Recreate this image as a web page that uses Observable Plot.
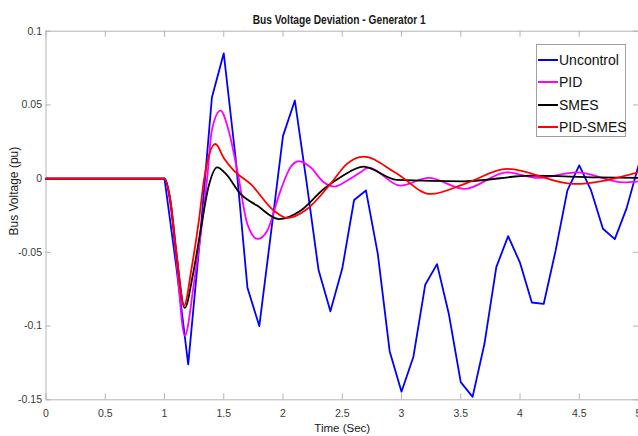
<!DOCTYPE html>
<html>
<head>
<meta charset="utf-8">
<script src="https://cdn.jsdelivr.net/npm/d3@7"></script>
<script src="https://cdn.jsdelivr.net/npm/@observablehq/plot@0.6"></script>
<style>
  html, body { margin: 0; padding: 0; background: #fff; }
  #wrap { position: relative; width: 638px; height: 436px; overflow: hidden; }
  #legend {
    position: absolute; left: 536px; top: 44px; width: 90px; height: 93px;
    border: 1px solid #a0a0a0; background: #fff; box-sizing: border-box;
    font-family: "Liberation Sans", Arial, sans-serif;
    font-size: 14px; color: #111;
  }
  #legend .row { position: absolute; left: 1px; height: 18px; display: flex; align-items: center; white-space: nowrap; }
  #legend .sw { width: 20px; height: 2px; margin-right: 1px; }
</style>
</head>
<body>
<div id="wrap"></div>
<script>
// ---- data ----
const chartTitle = "Bus Voltage Deviation - Generator 1";
const xLabel = "Time (Sec)";
const yLabel = "Bus Voltage (pu)";
const seriesNames = ["Uncontrol", "PID", "SMES", "PID-SMES"];
const seriesColors = ["#0000ff", "#ff00ff", "#000000", "#ff0000"];

const xTicks = [0, 0.5, 1, 1.5, 2, 2.5, 3, 3.5, 4, 4.5, 5];
const yTicks = [-0.15, -0.1, -0.05, 0, 0.05, 0.1];

const tUncontrol = [0,1.0,1.1,1.2,1.3,1.4,1.5,1.6,1.7,1.8,1.9,2.0,2.1,2.2,2.3,2.4,2.5,2.6,2.7,2.8,2.9,3.0,3.1,3.2,3.3,3.4,3.5,3.6,3.7,3.8,3.9,4.0,4.1,4.2,4.3,4.4,4.5,4.6,4.7,4.8,4.9,5.0];
const uncontrol = [0,0,-0.06,-0.126,-0.04,0.055,0.085,0.014,-0.074,-0.1,-0.036,0.029,0.053,-0.003,-0.062,-0.09,-0.061,-0.0145,-0.008,-0.051,-0.117,-0.1445,-0.121,-0.072,-0.058,-0.092,-0.138,-0.148,-0.112,-0.06,-0.039,-0.057,-0.084,-0.085,-0.049,-0.008,0.009,-0.008,-0.034,-0.041,-0.02,0.009];

const tPID = [0,1.0,1.05,1.1,1.171,1.25,1.33,1.36,1.4,1.473,1.54,1.62,1.70,1.787,1.867,1.979,2.063,2.134,2.232,2.344,2.43,2.54,2.654,2.72,2.99,3.23,3.53,3.89,4.15,4.48,4.876,5.0];
const pid = [0,0,-0.018,-0.055,-0.1065,-0.07,-0.0217,0,0.033,0.0461,0.033,0.003,-0.031,-0.0409,-0.0353,-0.0081,0.0077,0.0118,0.0077,-0.0025,-0.0054,-0.0014,0.0043,0.0075,-0.0047,0.0005,-0.007,0.0043,0.0005,0.0043,-0.0025,-0.002];

const tSMES = [0,1.0,1.05,1.1,1.171,1.24,1.304,1.37,1.445,1.52,1.641,1.782,1.965,2.148,2.344,2.485,2.68,2.96,3.53,4.09,4.65,5.0];
const smes = [0,0,-0.015,-0.05,-0.0877,-0.065,-0.0353,-0.006,0.0077,0.003,-0.0104,-0.0183,-0.0274,-0.0217,-0.007,0.0009,0.0081,-0.0009,-0.0018,0.002,0.0009,0.0005];

const tPIDSMES = [0,1.0,1.05,1.1,1.165,1.23,1.29,1.335,1.43,1.5,1.585,1.726,1.922,2.035,2.204,2.4,2.54,2.68,2.95,3.245,3.55,3.89,4.454,5.0];
const pidSmes = [0,0,-0.015,-0.05,-0.086,-0.06,-0.0285,0,0.0235,0.014,0.0054,-0.0036,-0.0217,-0.0267,-0.0206,-0.0036,0.01,0.0149,0.004,-0.0104,-0.003,0.0066,-0.0036,0.0043];

// ---- build tidy rows ----
const toRows = (ts, vs, name) => ts.map((t, i) => ({t, v: vs[i], name}));
const rowsU = toRows(tUncontrol, uncontrol, seriesNames[0]);
const rowsP = toRows(tPID, pid, seriesNames[1]);
const rowsS = toRows(tSMES, smes, seriesNames[2]);
const rowsR = toRows(tPIDSMES, pidSmes, seriesNames[3]);

const W = 638, H = 436;
const mL = 45.5, mR = 0, mT = 30.7, mB = 36.7;
const fw = W - mL - mR, fh = H - mT - mB;
const axisGray = "#b4b4b4";
const textGray = "#3a3a3a";
const sans = "'Liberation Sans', Arial, sans-serif";

const chart = Plot.plot({
  width: W, height: H,
  marginLeft: mL, marginRight: mR, marginTop: mT, marginBottom: mB,
  style: {fontFamily: sans, fontSize: "10.5px", color: textGray, background: "#fff", overflow: "visible"},
  x: {domain: [0, 5]},
  y: {domain: [-0.15, 0.1]},
  marks: [
    // box lines
    Plot.ruleX([0], {stroke: axisGray, strokeWidth: 1}),
    Plot.ruleY([-0.15], {stroke: axisGray, strokeWidth: 1}),
    Plot.ruleY([0.1], {stroke: axisGray, strokeWidth: 1}),
    // inward ticks
    Plot.tickX(xTicks, {x: d => d, insetTop: fh - 6, stroke: axisGray}),
    Plot.tickX(xTicks, {x: d => d, insetBottom: fh - 6, stroke: axisGray}),
    Plot.tickY(yTicks, {y: d => d, insetRight: fw - 5, stroke: axisGray}),
    Plot.tickY(yTicks, {y: d => d, insetLeft: fw - 5, stroke: axisGray}),
    // tick labels
    Plot.axisX({ticks: xTicks, tickSize: 0, tickPadding: 10, label: null, tickFormat: d => String(d), fill: textGray}),
    Plot.axisY({ticks: yTicks, tickSize: 0, tickPadding: 4, label: null, tickFormat: d => String(d), fill: textGray}),
    // data lines
    Plot.line(rowsU, {x: "t", y: "v", stroke: seriesColors[0], strokeWidth: 1.8, curve: "linear"}),
    Plot.line(rowsP, {x: "t", y: "v", stroke: seriesColors[1], strokeWidth: 1.8, curve: "monotone-x"}),
    Plot.line(rowsS, {x: "t", y: "v", stroke: seriesColors[2], strokeWidth: 1.8, curve: "monotone-x"}),
    Plot.line(rowsR, {x: "t", y: "v", stroke: seriesColors[3], strokeWidth: 1.8, curve: "monotone-x"}),
    // titles
    Plot.text([chartTitle], {frameAnchor: "top", dy: -11, lineAnchor: "middle", fontSize: 12, fontWeight: "bold", fill: "#1a1a1a", dx: -3, className: "ttl"}),
    Plot.text([xLabel], {frameAnchor: "bottom", dy: 29, lineAnchor: "middle", fontSize: 11.5, fill: "#1a1a1a"}),
    Plot.text([yLabel], {frameAnchor: "left", dx: -32, dy: 20, rotate: -90, lineAnchor: "middle", fontSize: 12, fill: "#1a1a1a"})
  ]
});

const wrap = document.getElementById("wrap");
wrap.appendChild(chart);

// narrow the title to the reference's condensed width
const ttl = chart.querySelector(".ttl text");
if (ttl) { ttl.setAttribute("textLength", "173"); ttl.setAttribute("lengthAdjust", "spacingAndGlyphs"); }

// legend overlay
const legend = document.createElement("div");
legend.id = "legend";
const rowTops = [6, 28, 51, 73];
seriesNames.forEach((n, i) => {
  const r = document.createElement("div");
  r.className = "row";
  r.style.top = rowTops[i] + "px";
  const sw = document.createElement("span");
  sw.className = "sw";
  sw.style.background = seriesColors[i];
  const tx = document.createElement("span");
  tx.textContent = n;
  r.appendChild(sw); r.appendChild(tx);
  legend.appendChild(r);
});
wrap.appendChild(legend);
</script>
</body>
</html>
